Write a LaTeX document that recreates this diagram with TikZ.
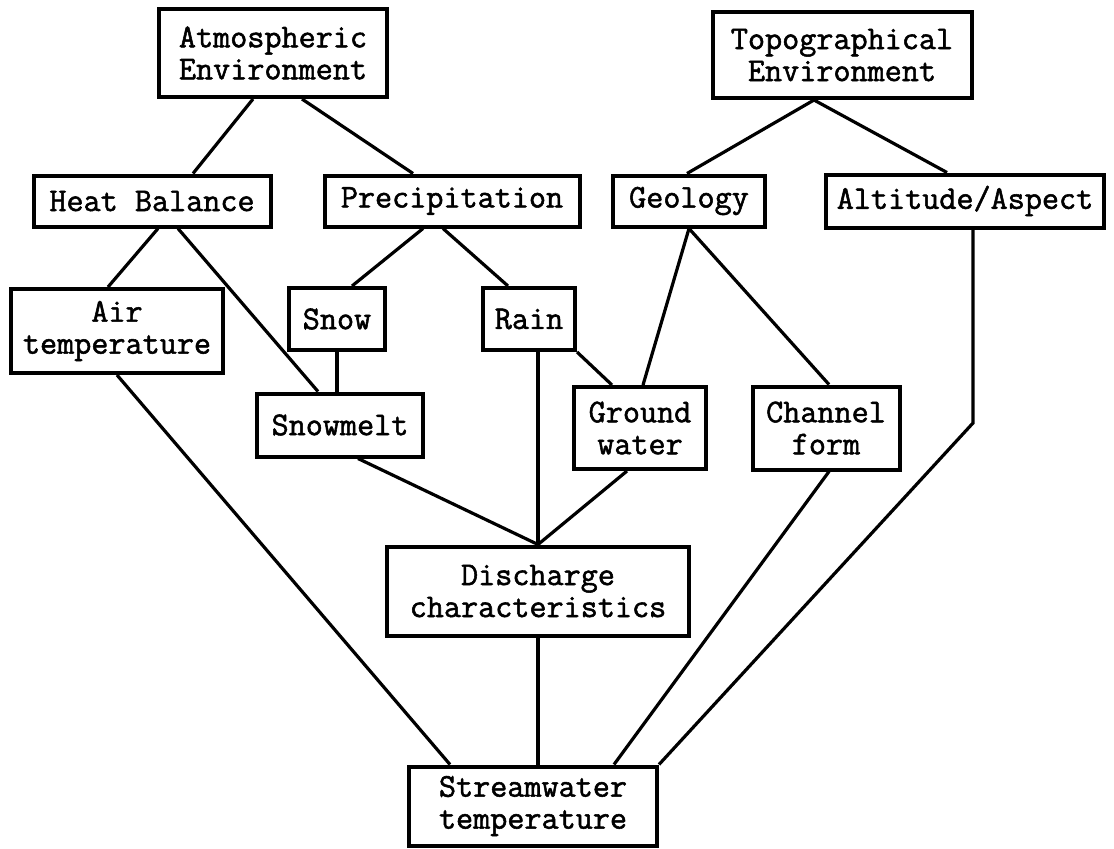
\documentclass[tikz,border=0pt]{standalone}
\usepackage{fontspec}
\newfontfamily\typewr{Latin Modern Mono}[FakeBold=1.6,AutoFakeBold=1.6]

\begin{document}
\begin{tikzpicture}[x=0.5pt,y=-0.5pt,
    box/.style={draw,line width=2pt,inner sep=0pt,align=center,
      font=\typewr\bfseries\fontsize{16.6}{16}\selectfont},
    link/.style={line width=1.6pt}]
  \useasboundingbox (0,0) rectangle (1114,848);

  % environments (top row)
  \node[box,minimum width=114pt,minimum height=44pt]   (atmo) at (273,53)  {Atmospheric\\Environment};
  \node[box,minimum width=129.5pt,minimum height=43pt] (topo) at (842,55)  {Topographical\\Environment};

  % second row
  \node[box,minimum width=118.5pt,minimum height=25.5pt] (heat)   at (152,201) {Heat Balance};
  \node[box,minimum width=127.5pt,minimum height=25.5pt] (precip) at (452,201) {Precipitation};
  \node[box,minimum width=76pt,minimum height=25.5pt]    (geol)   at (689,201) {Geology};
  \node[box,minimum width=139pt,minimum height=26.5pt]   (alt)    at (965,201) {Altitude/Aspect};

  % middle rows
  \node[box,minimum width=106pt,minimum height=42pt]    (air)    at (117,331) {Air\\temperature};
  \node[box,minimum width=48pt,minimum height=31pt]     (snow)   at (337,319) {Snow};
  \node[box,minimum width=46pt,minimum height=31pt]     (rain)   at (529,319) {Rain};
  \node[box,minimum width=83pt,minimum height=31.5pt]   (melt)   at (340,425) {Snowmelt};
  \node[box,minimum width=66pt,minimum height=41pt]     (ground) at (640,428) {Ground\\water};
  \node[box,minimum width=73.5pt,minimum height=41.5pt] (chan)   at (826,428) {Channel\\form};

  % bottom
  \node[box,minimum width=151pt,minimum height=44.5pt] (disch)  at (538,591) {Discharge\\characteristics};
  \node[box,minimum width=124pt,minimum height=39.5pt] (stream) at (533,806) {Streamwater\\temperature};

  % links from the environments
  \draw[link] ([xshift=-10pt]atmo.south) -- ([xshift=20.5pt]heat.north);
  \draw[link] ([xshift=14.5pt]atmo.south) -- ([xshift=-19.5pt]precip.north);
  \draw[link] ([xshift=-14pt]topo.south) -- ([xshift=-1pt]geol.north);
  \draw[link] ([xshift=-14pt]topo.south) -- ([xshift=-9pt]alt.north);

  % second row downwards
  \draw[link] ([xshift=3pt]heat.south) -- ([xshift=-4.5pt]air.north);
  \draw[link] ([xshift=13pt]heat.south) -- ([xshift=-11pt]melt.north);
  \draw[link] ([xshift=-14.5pt]precip.south) -- ([xshift=7.5pt]snow.north);
  \draw[link] ([xshift=-4.5pt]precip.south) -- ([xshift=-10.5pt]rain.north);
  \draw[link] (snow.south) -- (snow.south |- melt.north);
  \draw[link] (geol.south) -- ([xshift=1.5pt]ground.north);
  \draw[link] (geol.south) -- ([xshift=1.5pt]chan.north);
  \draw[link] (rain.south east) -- ([xshift=-14pt]ground.north);

  % into discharge
  \draw[link] ([xshift=4.5pt]rain.south) -- (disch.north);
  \draw[link] ([xshift=9pt]melt.south) -- (disch.north);
  \draw[link] ([xshift=-6.5pt]ground.south) -- (disch.north);

  % into streamwater temperature
  \coordinate (bend) at (973,423);
  \draw[link] (disch.south) -- ([xshift=2.5pt]stream.north);
  \draw[link] (air.south) -- ([xshift=-41.5pt]stream.north);
  \draw[link] ([xshift=1.5pt]chan.south) -- ([xshift=40.5pt]stream.north);
  \draw[link] (alt.south -| bend) -- (bend) -- (stream.north east);
\end{tikzpicture}
\end{document}
